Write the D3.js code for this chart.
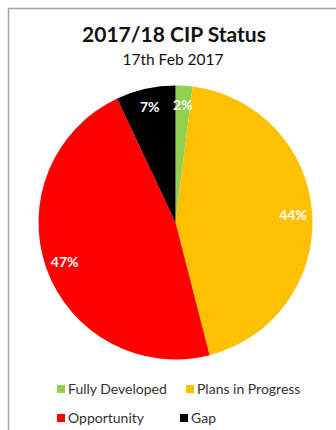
<!DOCTYPE html>
<html>
<head>
<meta charset="utf-8">
<script src="https://cdn.jsdelivr.net/npm/d3@7/dist/d3.min.js"></script>
<style>
  html, body { margin: 0; padding: 0; background: #fff; }
  svg { display: block; }
</style>
</head>
<body>
<svg id="chart" width="336" height="430"></svg>
<script>
// CIP status breakdown (percent of plan)
const categories = ["Fully Developed", "Plans in Progress", "Opportunity", "Gap"];
const values = [2, 44, 47, 7];
const colors = ["#92D050", "#FFC000", "#FF0000", "#000000"];

const svg = d3.select("#chart");
const font = "Lato, 'Open Sans', sans-serif";

// Frame edge (top and left visible)
svg.append("path")
  .attr("d", "M8.5,436 V8.5 H344")
  .attr("fill", "none")
  .attr("stroke", "#a6a6a6")
  .attr("stroke-width", 1.5);

// Titles
svg.append("text")
  .attr("x", 174).attr("y", 42)
  .attr("text-anchor", "middle")
  .attr("font-family", font)
  .attr("font-weight", "bold")
  .attr("font-size", 21)
  .attr("fill", "#111")
  .text("2017/18 CIP Status");

svg.append("text")
  .attr("x", 173).attr("y", 65)
  .attr("text-anchor", "middle")
  .attr("font-family", font)
  .attr("font-size", 15.5)
  .attr("fill", "#111")
  .text("17th Feb 2017");

// Pie
const cx = 175.5, cy = 222.5, R = 137;
const pie = d3.pie().sort(null).value(d => d.value);
const arcs = pie(categories.map((c, i) => ({ name: c, value: values[i], color: colors[i] })));
const arc = d3.arc().innerRadius(0).outerRadius(R);
const labelArc = d3.arc().innerRadius(R * 0.86).outerRadius(R * 0.86);

const g = svg.append("g").attr("transform", `translate(${cx},${cy})`);
g.selectAll("path.slice")
  .data(arcs)
  .join("path")
  .attr("class", "slice")
  .attr("d", arc)
  .attr("fill", d => d.data.color);

g.selectAll("text.pct")
  .data(arcs)
  .join("text")
  .attr("class", "pct")
  .attr("transform", d => `translate(${labelArc.centroid(d)})`)
  .attr("text-anchor", "middle")
  .attr("dy", "0.35em")
  .attr("font-family", font)
  .attr("font-weight", "bold")
  .attr("font-size", 14)
  .attr("fill", "#fff")
  .text(d => d.data.value + "%");

// Legend (two rows of two)
const legendPos = [[57, 389], [186, 389], [57, 418], [180, 418]];
const legend = svg.selectAll("g.legend")
  .data(categories)
  .join("g")
  .attr("class", "legend")
  .attr("transform", (d, i) => `translate(${legendPos[i][0]},${legendPos[i][1]})`);

legend.append("rect")
  .attr("x", 0).attr("y", -4)
  .attr("width", 8).attr("height", 8)
  .attr("fill", (d, i) => colors[i]);

legend.append("text")
  .attr("x", 11).attr("y", 0)
  .attr("dy", "0.36em")
  .attr("font-family", font)
  .attr("font-size", 14)
  .attr("fill", "#333")
  .text(d => d);
</script>
</body>
</html>
